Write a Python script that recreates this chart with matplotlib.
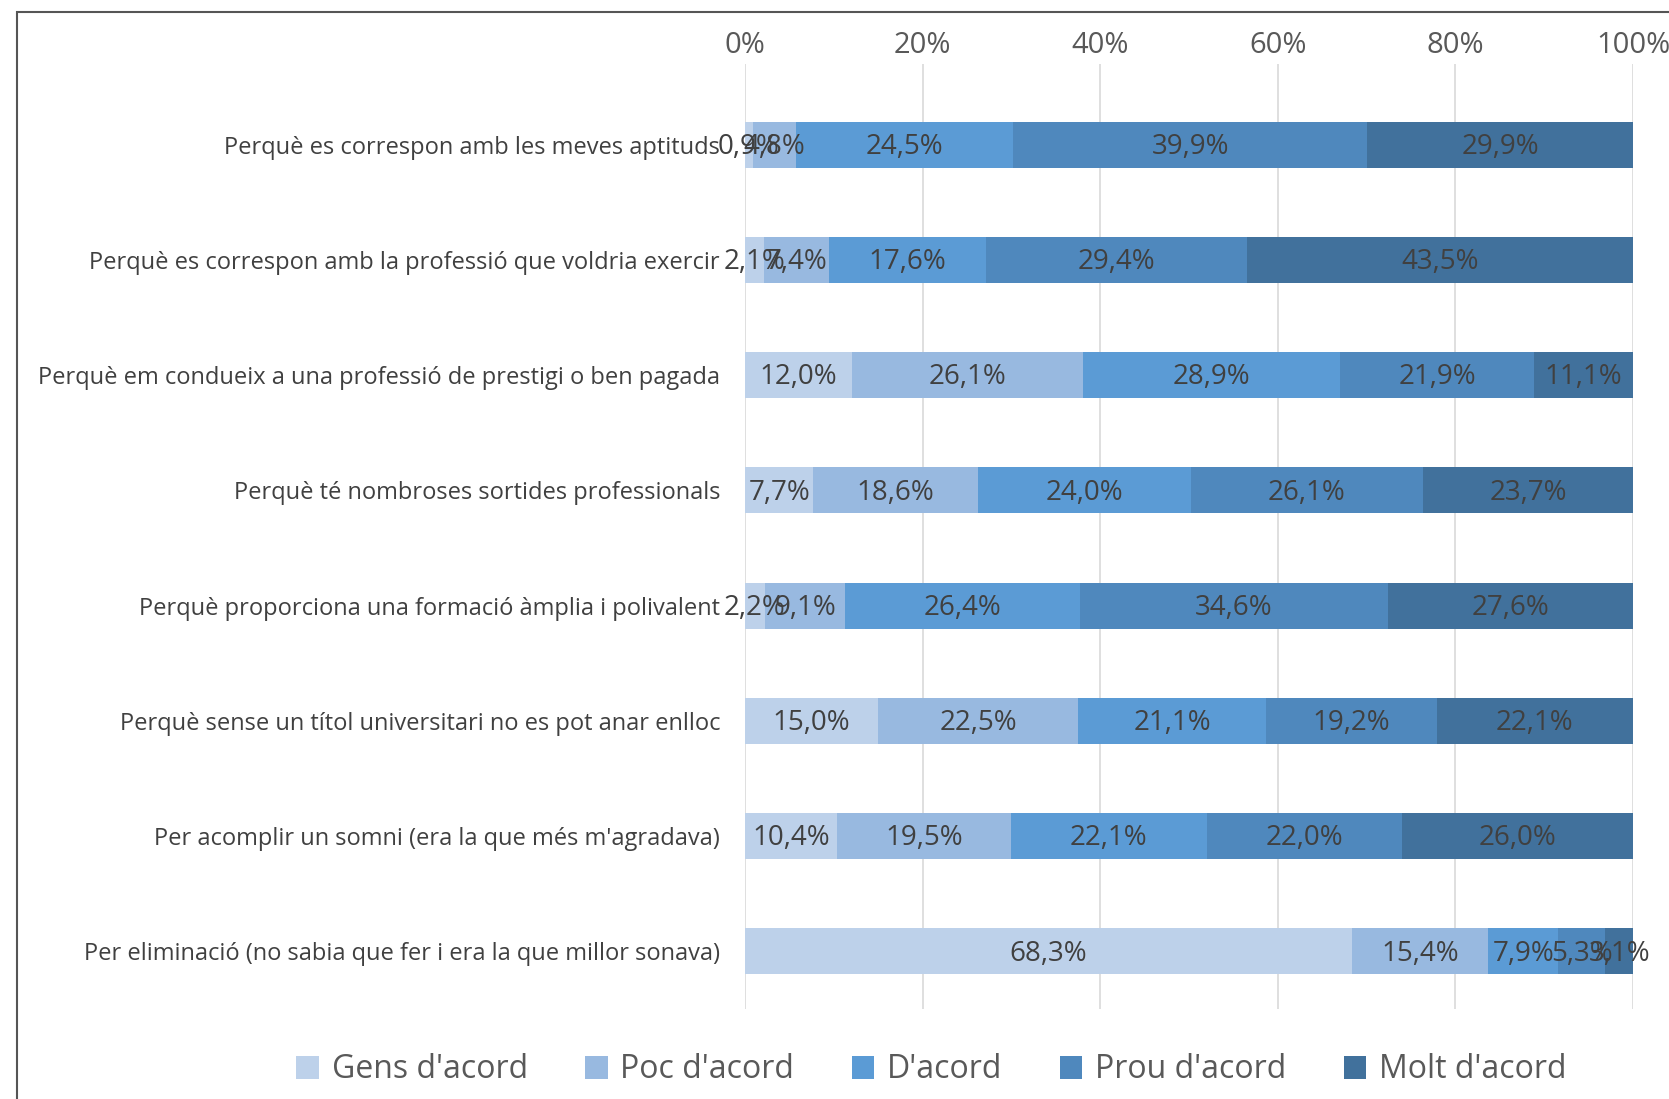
import numpy as np
import matplotlib
matplotlib.use('Agg')
import matplotlib.pyplot as plt
from matplotlib.patches import Rectangle

plt.rcParams['font.family'] = ['Open Sans', 'DejaVu Sans']

# dades
categories = [
    "Perquè es correspon amb les meves aptituds",
    "Perquè es correspon amb la professió que voldria exercir",
    "Perquè em condueix a una professió de prestigi o ben pagada",
    "Perquè té nombroses sortides professionals",
    "Perquè proporciona una formació àmplia i polivalent",
    "Perquè sense un títol universitari no es pot anar enlloc",
    "Per acomplir un somni (era la que més m'agradava)",
    "Per eliminació (no sabia que fer i era la que millor sonava)",
]
series = ["Gens d'acord", "Poc d'acord", "D'acord", "Prou d'acord", "Molt d'acord"]
gens = [0.9, 2.1, 12.0, 7.7, 2.2, 15.0, 10.4, 68.3]
poc = [4.8, 7.4, 26.1, 18.6, 9.1, 22.5, 19.5, 15.4]
dacord = [24.5, 17.6, 28.9, 24.0, 26.4, 21.1, 22.1, 7.9]
prou = [39.9, 29.4, 21.9, 26.1, 34.6, 19.2, 22.0, 5.3]
molt = [29.9, 43.5, 11.1, 23.7, 27.6, 22.1, 26.0, 3.1]
colors = ['#BDD1EA', '#98B9E0', '#5B9BD5', '#4F88BD', '#41719C']

values = np.array([gens, poc, dacord, prou, molt])
totals = values.sum(axis=0)
pct = values / totals * 100

fig = plt.figure(figsize=(16.69, 10.99), dpi=100)
ax = fig.add_axes([745/1669, 1-1009/1099, (1633-745)/1669, (1009-64)/1099])

y = np.arange(len(categories))
left = np.zeros(len(categories))
for i, s in enumerate(series):
    ax.barh(y, pct[i], left=left, height=0.4, color=colors[i], label=s, zorder=3)
    for j in range(len(categories)):
        ax.text(left[j] + pct[i][j]/2, y[j] + 0.02, ('%.1f%%' % values[i][j]).replace('.', ','),
                ha='center', va='center', fontsize=20, color='#404040', zorder=4)
    left += pct[i]

ax.set_xlim(0, 100)
ax.set_ylim(7.5, -0.7)
ax.set_yticks(y)
ax.set_yticklabels(categories, fontsize=17, color='#404040')
ax.set_xticks(np.arange(0, 101, 20))
ax.set_xticklabels(['%d%%' % v for v in range(0, 101, 20)], fontsize=21, color='#595959')
ax.xaxis.tick_top()
ax.tick_params(length=0)
ax.tick_params(axis='y', pad=18)
ax.tick_params(axis='x', pad=3)
ax.grid(axis='x', color='#D9D9D9', linewidth=1.2, zorder=0)
for sp in ax.spines.values():
    sp.set_visible(False)

# marc
fig.patches.append(Rectangle((17/1669, -0.1), 1.2, 1.1 - 12/1099, transform=fig.transFigure,
                             fill=False, edgecolor='#555555', linewidth=1.5))

fig.legend(loc='center', bbox_to_anchor=(0.558, 1-1070/1099), ncol=5, frameon=False,
           fontsize=23, handlelength=0.7, handleheight=0.7, columnspacing=1.8,
           handletextpad=0.4, labelcolor='#595959')

fig.savefig('out.png', dpi=100)
